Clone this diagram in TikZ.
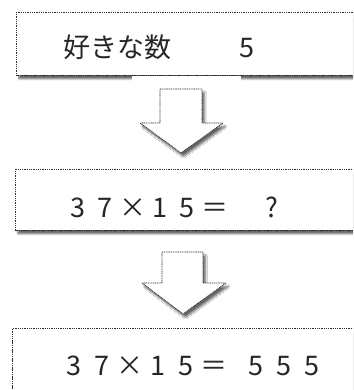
\documentclass[tikz,border=0pt]{standalone}
\usepackage{fontspec}
\newfontfamily\jpfont{Noto Sans CJK JP}
\usetikzlibrary{positioning, shadows.blur}

\tikzset{
  dotline/.style={draw=gray!35!black, line width=0.8pt, dash pattern=on 1.1pt off 0.7pt},
  softshadow/.style={blur shadow={shadow xshift=2.5pt, shadow yshift=-3.5pt, shadow blur steps=8, shadow opacity=60}},
  flowbox/.style={dotline, softshadow, fill=white, rectangle, anchor=north west, inner sep=0pt, minimum width=380pt},
  arrowblock/.style={dotline, softshadow, fill=white},
  boxtext/.style={anchor=base west, inner sep=0pt, text=black!85, font=\jpfont\fontsize{27}{30}\selectfont}
}
\newcommand{\cell}[2][28pt]{\makebox[#1]{#2}}

\begin{document}
\begin{tikzpicture}[x=1pt, y=-1pt]
    \useasboundingbox (0,0) rectangle (353,390);
    \clip (0,0) rectangle (353,390);

    % first box: the chosen number
    \node[flowbox, minimum height=63pt] (fav) at (16,12) {};
    \node[boxtext] (favtext) at (63.5,57.5)
        {\cell[27pt]{好}\cell[27pt]{き}\cell[27pt]{な}\cell[27pt]{数}\hspace*{61.5pt}\cell{5}};

    % arrow down
    \fill[white] (132,76) rectangle (241,168);
    \draw[arrowblock] (160,89) -- (202,89) -- (202,123) -- (223,123) -- (181,153)
        -- (140,123) -- (160,123) -- cycle;

    % second box: the question
    \node[flowbox, minimum height=61pt] (ask) at (15,169) {};
    \node[boxtext] (asktext) at (64.3,217)
        {\cell[27.3pt]{3}\cell[27.3pt]{7}\cell[27.3pt]{×}\cell[27.3pt]{1}\cell[27.3pt]{5}\cell[27.3pt]{＝}\hspace*{29.8pt}\cell[27.3pt]{?}};

    % arrow down
    \fill[white] (133,236) rectangle (243,326);
    \draw[arrowblock] (162,252) -- (203,252) -- (203,283) -- (226,283) -- (183,314)
        -- (142,283) -- (162,283) -- cycle;

    % third box: the answer
    \node[flowbox, minimum height=64pt] (answer) at (12,328) {};
    \node[boxtext] (answertext) at (60,375)
        {\cell{3}\cell{7}\cell{×}\cell{1}\cell{5}\cell{＝}\hspace*{14pt}\cell{5}\cell{5}\cell{5}};
\end{tikzpicture}
\end{document}
